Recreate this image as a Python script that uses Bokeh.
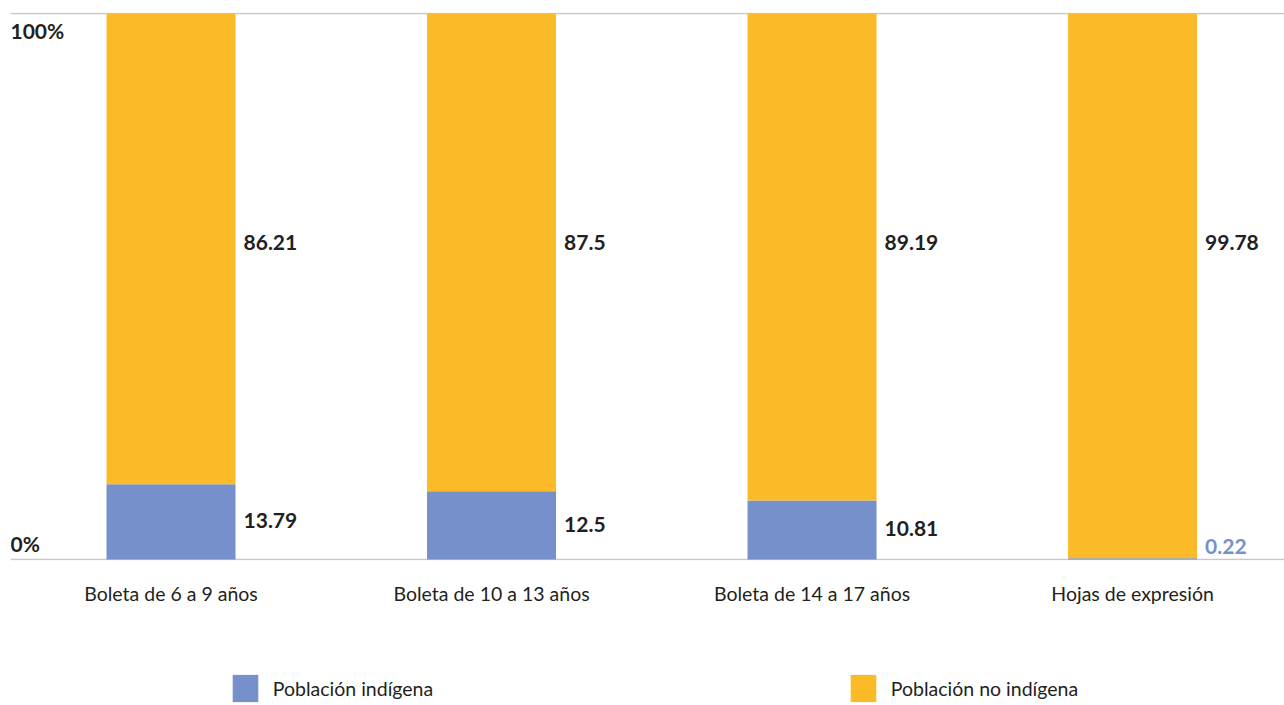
from bokeh.plotting import figure
from bokeh.layouts import column
from bokeh.models import ColumnDataSource, Range1d, FixedTicker, Legend, LegendItem
from bokeh.core.properties import value
from bokeh.embed import file_html
from bokeh.resources import INLINE

categories = ["Boleta de 6 a 9 años", "Boleta de 10 a 13 años",
              "Boleta de 14 a 17 años", "Hojas de expresión"]
indigena = [13.79, 12.5, 10.81, 0.22]
no_indigena = [86.21, 87.5, 89.19, 99.78]
y_ticks = [0, 100]
y_tick_labels = ["0%", "100%"]
series_names = ["Población indígena", "Población no indígena"]

BLUE = "#7690CB"
ORANGE = "#FBBB28"
DARK = "#231F20"
GRID = "#C8C8C8"
BAR_W = 0.4025
X_START = -0.5008
X_END = 3.474

xs = list(range(len(categories)))
src = ColumnDataSource(dict(x=xs, ind=indigena, no=no_indigena))

p = figure(width=1284, height=630,
           x_range=Range1d(X_START, X_END), y_range=Range1d(-0.2, 100.2),
           output_backend="svg", toolbar_location=None,
           min_border_left=10, min_border_right=0,
           min_border_top=12, min_border_bottom=70)
p.outline_line_color = None
p.xgrid.visible = False
p.ygrid.visible = False
p.yaxis.visible = False

p.hspan(y=y_ticks, line_color=GRID, line_width=1.6, level="underlay")

rs = p.vbar_stack(["ind", "no"], x="x", width=BAR_W, color=[BLUE, ORANGE],
                  line_color=None, source=src)

# x axis with categories
p.xaxis.ticker = FixedTicker(ticks=xs)
p.xaxis.major_label_overrides = {i: c for i, c in enumerate(categories)}
p.xaxis.axis_line_color = None
p.xaxis.major_tick_line_color = None
p.xaxis.minor_tick_line_color = None
p.xaxis.major_label_standoff = 15
p.xaxis.major_label_text_font = "Lato"
p.xaxis.major_label_text_font_size = "19.5px"
p.xaxis.major_label_text_color = DARK

# y labels inside plot
ysrc = ColumnDataSource(dict(x=[X_START] * len(y_ticks), y=y_ticks, t=y_tick_labels,
                             off=[-16 if v == 0 else 17 for v in y_ticks]))
p.text(x="x", y="y", text="t", y_offset="off", source=ysrc,
       text_font=value("Lato"), text_font_style="bold", text_font_size="21px",
       text_color=DARK, text_baseline="middle", text_align="left")

# value labels
lab_x = [x + BAR_W / 2 for x in xs]
top_src = ColumnDataSource(dict(x=lab_x, y=[58] * len(xs), t=[f"{v:g}" for v in no_indigena]))
p.text(x="x", y="y", text="t", source=top_src, x_offset=8,
       text_font=value("Lato"), text_font_style="bold", text_font_size="21px",
       text_color=DARK, text_baseline="middle", text_align="left")
bot_src = ColumnDataSource(dict(x=lab_x, y=[max(v / 2 + 0.2, 2.4) for v in indigena],
                                t=[f"{v:g}" for v in indigena],
                                c=[BLUE if v < 1 else DARK for v in indigena]))
p.text(x="x", y="y", text="t", source=bot_src, x_offset=8,
       text_font=value("Lato"), text_font_style="bold", text_font_size="21px",
       text_color="c", text_baseline="middle", text_align="left")

# legend figure (swatch renderers are zero-height, only used for the legend)
lg = figure(width=1284, height=75, x_range=Range1d(0, 1), y_range=Range1d(0, 1),
            output_backend="svg", toolbar_location=None,
            min_border_left=0, min_border_right=0, min_border_top=0, min_border_bottom=0)
lg.outline_line_color = None
lg.xaxis.visible = False
lg.yaxis.visible = False
lg.xgrid.visible = False
lg.ygrid.visible = False
for name, col, lx in zip(series_names, [BLUE, ORANGE], [218.8, 836.8]):
    r = lg.vbar(x=[0], top=[0], bottom=[0], width=0.0, color=col, line_color=None)
    leg = Legend(items=[LegendItem(label=name, renderers=[r])], location=(lx, 0),
                 orientation="horizontal", padding=0, margin=0, spacing=0,
                 glyph_width=32, glyph_height=34, label_standoff=12,
                 label_text_font="Lato", label_text_font_size="19.5px",
                 label_text_color=DARK, border_line_alpha=0,
                 background_fill_alpha=0, label_height=34)
    lg.add_layout(leg, "center")

layout = column(p, lg, spacing=0)
open("out.html", "w").write(file_html(layout, INLINE))
